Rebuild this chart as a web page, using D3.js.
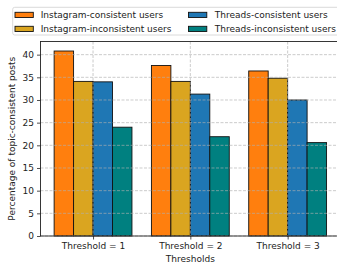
<!DOCTYPE html>
<html>
<head>
<meta charset="utf-8">
<script src="https://cdn.jsdelivr.net/npm/d3@7"></script>
<style>
  body { margin: 0; background: #fff; }
  svg { display: block; font-family: "DejaVu Sans", sans-serif; }
</style>
</head>
<body>
<div id="chart"></div>
<script>
const thresholds = ["Threshold = 1", "Threshold = 2", "Threshold = 3"];
const seriesNames = ["Instagram-consistent users", "Instagram-inconsistent users", "Threads-consistent users", "Threads-inconsistent users"];
const seriesColors = ["#ff7f0e", "#daa520", "#1f77b4", "#008080"];
const igConsistent = [40.8, 37.6, 36.4];
const igInconsistent = [34.1, 34.1, 34.8];
const thConsistent = [34.0, 31.3, 30.0];
const thInconsistent = [24.0, 21.9, 20.6];
const yTicks = [0, 5, 10, 15, 20, 25, 30, 35, 40];

const series = [igConsistent, igInconsistent, thConsistent, thInconsistent];

const width = 337, height = 265;
const margin = {left: 40.5, top: 41.5, bottom: 236};
const barW = 0.2;
const fs = "9px";

const svg = d3.select("#chart").append("svg")
    .attr("width", width)
    .attr("height", height);

// x in group units, matplotlib-like limits
const x = d3.scaleLinear().domain([-0.54, 2.54]).range([margin.left, margin.left + 97.3 * 3.08]);
const y = d3.scaleLinear().domain([0, 42.9]).range([margin.bottom, margin.top]);

const plotRight = x(2.54);

// bars
series.forEach((vals, si) => {
    svg.append("g")
        .selectAll("rect")
        .data(vals)
        .join("rect")
        .attr("x", (d, i) => x(i + (si - 1.5) * barW - barW / 2))
        .attr("width", x(barW) - x(0))
        .attr("y", d => y(d))
        .attr("height", d => y(0) - y(d))
        .attr("fill", seriesColors[si])
        .attr("stroke", "#111")
        .attr("stroke-width", 0.9);
});

// grid lines on top
const grid = svg.append("g")
    .attr("stroke", "#b0b0b0")
    .attr("stroke-width", 0.8)
    .attr("stroke-dasharray", "3,1.5")
    .attr("opacity", 0.8);
grid.selectAll("line.h")
    .data(yTicks)
    .join("line")
    .attr("x1", margin.left)
    .attr("x2", plotRight)
    .attr("y1", d => y(d))
    .attr("y2", d => y(d));
grid.selectAll("line.v")
    .data(thresholds)
    .join("line")
    .attr("x1", (d, i) => x(i))
    .attr("x2", (d, i) => x(i))
    .attr("y1", margin.top)
    .attr("y2", margin.bottom);

// frame
svg.append("rect")
    .attr("x", margin.left)
    .attr("y", margin.top)
    .attr("width", plotRight - margin.left)
    .attr("height", margin.bottom - margin.top)
    .attr("fill", "none")
    .attr("stroke", "#222")
    .attr("stroke-width", 0.9);

// axes
const yAxis = svg.append("g")
    .attr("transform", `translate(${margin.left},0)`)
    .call(d3.axisLeft(y).tickValues(yTicks).tickSize(3.5).tickPadding(3));
const xAxis = svg.append("g")
    .attr("transform", `translate(0,${margin.bottom})`)
    .call(d3.axisBottom(x).tickValues([0, 1, 2]).tickFormat((d, i) => thresholds[i]).tickSize(3.5).tickPadding(3));
[yAxis, xAxis].forEach(a => {
    a.select(".domain").remove();
    a.selectAll("line").attr("stroke", "#222").attr("stroke-width", 0.8);
    a.selectAll("text").attr("fill", "#222").style("font-size", fs).style("font-family", "DejaVu Sans");
});

svg.append("text")
    .attr("x", x(1))
    .attr("y", 262)
    .attr("text-anchor", "middle")
    .style("font-size", fs)
    .attr("fill", "#222")
    .text("Thresholds");

svg.append("text")
    .attr("transform", `translate(15,${(margin.top + margin.bottom) / 2}) rotate(-90)`)
    .attr("text-anchor", "middle")
    .style("font-size", fs)
    .attr("fill", "#222")
    .text("Percentage of topic-consistent posts");

// legend
const legend = svg.append("g");
legend.append("rect")
    .attr("x", 12.7).attr("y", 7.3)
    .attr("width", 330).attr("height", 27.7)
    .attr("rx", 2)
    .attr("fill", "#fff")
    .attr("stroke", "#d0d0d0")
    .attr("stroke-width", 0.8);
const item = legend.selectAll("g.item")
    .data(seriesNames)
    .join("g")
    .attr("transform", (d, i) => `translate(${i < 2 ? 15 : 188.5},${i % 2 === 0 ? 12.3 : 26.3})`);
item.append("rect")
    .attr("width", 18.3).attr("height", 5.2)
    .attr("fill", (d, i) => seriesColors[i])
    .attr("stroke", "#111")
    .attr("stroke-width", 0.9);
item.append("text")
    .attr("x", (d, i) => i < 2 ? 25.7 : 26.3)
    .attr("y", 2.6)
    .attr("dy", "0.35em")
    .style("font-size", fs)
    .attr("fill", "#222")
    .text(d => d);
</script>
</body>
</html>
